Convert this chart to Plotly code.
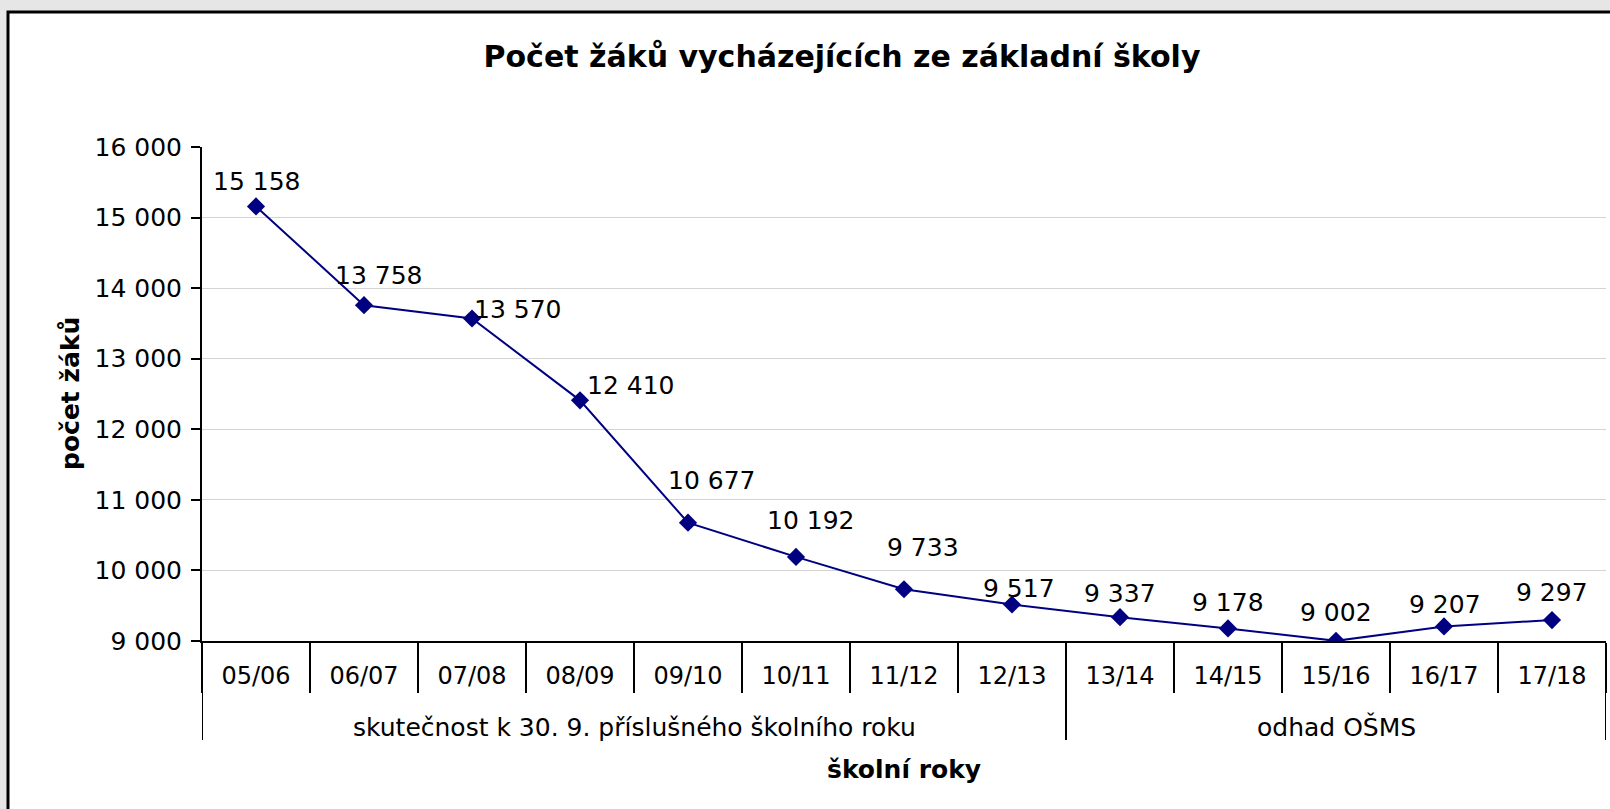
import plotly.graph_objects as go

# ---- data ----
categories = ["05/06", "06/07", "07/08", "08/09", "09/10", "10/11", "11/12",
              "12/13", "13/14", "14/15", "15/16", "16/17", "17/18"]
pupils = [15158, 13758, 13570, 12410, 10677, 10192, 9733, 9517, 9337, 9178, 9002, 9207, 9297]
group_names = ["skutečnost k 30. 9. příslušného školního roku", "odhad OŠMS"]
group_sizes = [8, 5]
title_text = "Počet žáků vycházejících ze základní školy"
y_title = "počet žáků"
x_title = "školní roky"

# label offsets (px) for data labels, as placed in the original
label_dx = [0, 14, 45, 50, 23, 14, 19, 7, 0, 0, 0, 1, 0]
label_dy = [25, 30, 9, 15, 42, 36, 42, 16, 24, 26, 28, 22, 28]

FONT = "DejaVu Sans"
NAVY = "#000080"

W, H = 1610, 809
ML, MR, MT, MB = 202, 4, 147, 168
PW, PH = W - ML - MR, H - MT - MB


def fmt(v):
    return f"{v:,}".replace(",", " ")


fig = go.Figure()
fig.add_trace(go.Scatter(
    x=categories, y=pupils, mode="lines+markers",
    line=dict(color=NAVY, width=2),
    marker=dict(symbol="diamond", size=14, color=NAVY),
    hoverinfo="skip", showlegend=False,
))

annotations = []
for c, v, dx, dy in zip(categories, pupils, label_dx, label_dy):
    annotations.append(dict(x=c, y=v, xref="x", yref="y", text=fmt(v), showarrow=False,
                            xshift=dx, yshift=dy, font=dict(family=FONT, size=25, color="black")))

shapes = []
# white chart box with black frame
shapes.append(dict(type="rect", xref="paper", yref="paper", layer="below",
                   x0=(8 - ML) / PW, x1=(W + 20 - ML) / PW,
                   y0=-(H + 20 - (MT + PH)) / PH, y1=(MT + PH - 12) / PH,
                   fillcolor="white", line=dict(color="black", width=3)))

# group dividers and labels
start = 0
bounds = [-0.5]
for name, n in zip(group_names, group_sizes):
    end = start + n
    bounds.append(end - 0.5)
    annotations.append(dict(x=(start + end - 1) / 2, y=0, xref="x", yref="paper",
                            yshift=-86, yanchor="middle", text=name, showarrow=False,
                            font=dict(family=FONT, size=25, color="black")))
    start = end
for b in bounds:
    shapes.append(dict(type="line", xref="x", yref="paper", x0=b, x1=b,
                       y0=0, y1=-(740 - (MT + PH)) / PH,
                       line=dict(color="black", width=2)))

annotations.append(dict(x=0.5, y=0, xref="paper", yref="paper", yshift=-128,
                        yanchor="middle", text=f"<b>{x_title}</b>", showarrow=False,
                        font=dict(family=FONT, size=25, color="black")))
annotations.append(dict(x=0, y=0.5, xref="paper", yref="paper", xshift=-132,
                        xanchor="center", yanchor="middle", textangle=-90,
                        text=f"<b>{y_title}</b>", showarrow=False,
                        font=dict(family=FONT, size=25, color="black")))

fig.update_layout(
    width=W, height=H,
    margin=dict(l=ML, r=MR, t=MT, b=MB, pad=0),
    paper_bgcolor="#e6e6e6", plot_bgcolor="white",
    separators=", ",
    title=dict(text=f"<b>{title_text}</b>", x=842 / W, xanchor="center",
               xref="container", yref="container", y=1 - 56 / H, yanchor="middle",
               font=dict(family=FONT, size=30, color="black")),
    font=dict(family=FONT, size=24, color="black"),
    xaxis=dict(type="category", range=[-0.5, len(categories) - 0.5], automargin=False,
               showline=True, linecolor="black", linewidth=2,
               ticks="outside", tickson="boundaries", ticklen=50, tickwidth=2,
               tickcolor="black", ticklabelstandoff=12, showgrid=False,
               tickfont=dict(family=FONT, size=24, color="black")),
    yaxis=dict(range=[9000, 16000], dtick=1000, tickformat=",d", automargin=False,
               showline=True, linecolor="black", linewidth=2,
               ticks="outside", ticklen=9, tickwidth=2, tickcolor="black",
               ticklabelstandoff=4,
               showgrid=True, gridcolor="#d4d4d4", gridwidth=1, zeroline=False,
               tickfont=dict(family=FONT, size=25, color="black")),
    shapes=shapes, annotations=annotations,
)

fig.write_html("out.html", config={"displayModeBar": False},
               post_script="document.body.style.margin='0';document.body.style.overflow='hidden';")
